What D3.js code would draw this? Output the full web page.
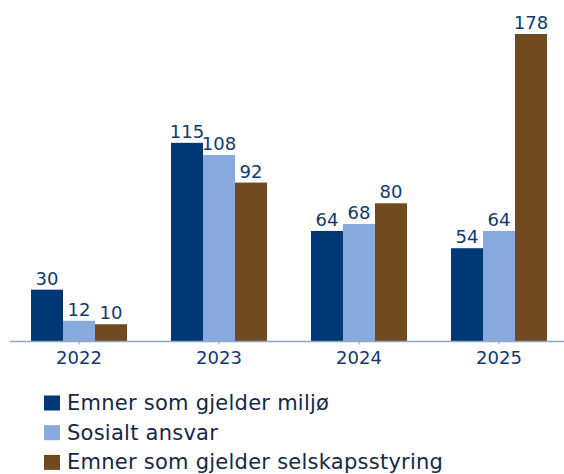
<!DOCTYPE html>
<html>
<head>
<meta charset="utf-8">
<script src="https://cdn.jsdelivr.net/npm/d3@7"></script>
<style>
  body { margin: 0; background: #fff; }
  svg { display: block; font-family: "DejaVu Sans", sans-serif; }
</style>
</head>
<body>
<svg id="chart" width="564" height="474"></svg>
<script>
// chart data
const years = ['2022', '2023', '2024', '2025'];
const seriesNames = ['Emner som gjelder miljø', 'Sosialt ansvar', 'Emner som gjelder selskapsstyring'];
const miljo = [30, 115, 64, 54];
const sosialt = [12, 108, 68, 64];
const styring = [10, 92, 80, 178];
const colors = ['#003876', '#88aade', '#714a20'];

const seriesValues = [miljo, sosialt, styring];

const svg = d3.select('#chart');
const baseY = 341.5;

let x0 = d3.scaleBand()
  .domain(years)
  .range([9, 569])
  .paddingInner(44 / 140)
  .paddingOuter(22 / 140);

let x1 = d3.scaleBand()
  .domain(d3.range(seriesNames.length))
  .range([0, x0.bandwidth()]);

let y = d3.scaleLinear()
  .domain([0, d3.max(styring)])
  .range([baseY, 34]);

//bars + value labels
years.forEach(function(yr, i) {
  let g = svg.append('g').attr('transform', 'translate(' + x0(yr) + ',0)');
  seriesValues.forEach(function(vals, s) {
    g.append('rect')
      .attr('x', x1(s))
      .attr('y', y(vals[i]))
      .attr('width', x1.bandwidth())
      .attr('height', baseY - y(vals[i]))
      .attr('fill', colors[s]);
    g.append('text')
      .attr('x', x1(s) + x1.bandwidth() / 2)
      .attr('y', y(vals[i]) - 5)
      .attr('text-anchor', 'middle')
      .attr('font-size', 18)
      .attr('fill', '#0f3a72')
      .text(vals[i]);
  });
});

//x axis
let axis = svg.append('g')
  .attr('transform', 'translate(0,' + baseY + ')')
  .call(d3.axisBottom(x0).tickSize(3).tickPadding(7).tickSizeOuter(0));
axis.select('.domain').remove();
axis.insert('line', ':first-child')
  .attr('x1', 10).attr('x2', 564)
  .attr('stroke', '#8ea6c6').attr('stroke-width', 1.5);
axis.selectAll('.tick line').attr('stroke', '#8ea6c6');
axis.selectAll('.tick text')
  .attr('font-family', '"DejaVu Sans", sans-serif')
  .attr('font-size', 18)
  .attr('fill', '#0f3a72');

//legend
let legend = svg.append('g');
seriesNames.forEach(function(name, s) {
  let cy = 403 + s * 29.7;
  legend.append('rect')
    .attr('x', 44).attr('y', cy - 7.5)
    .attr('width', 16).attr('height', 15)
    .attr('fill', colors[s]);
  legend.append('text')
    .attr('x', 67).attr('y', cy + 7)
    .attr('font-size', 21)
    .attr('letter-spacing', 0.25)
    .attr('fill', '#13294b')
    .text(name);
});
</script>
</body>
</html>
